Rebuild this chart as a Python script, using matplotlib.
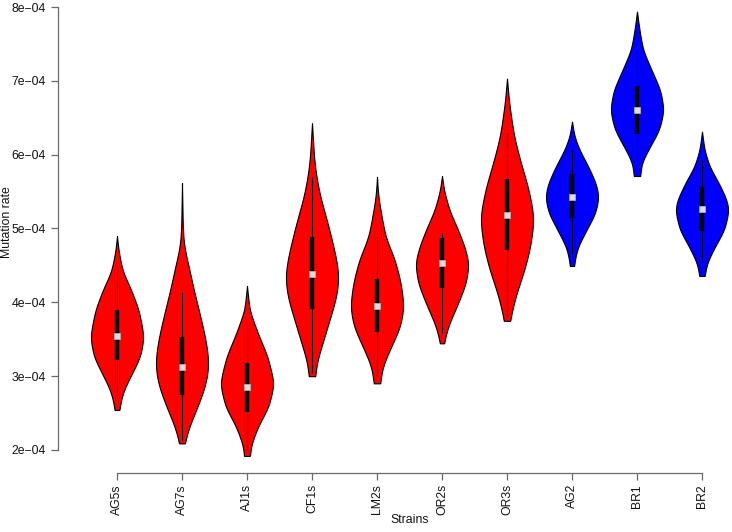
import numpy as np
import matplotlib
matplotlib.use("Agg")
import matplotlib.pyplot as plt

plt.rcParams['font.family'] = ['Liberation Sans', 'DejaVu Sans']

# ---------------- data (values in units of 1e-4) ----------------
strains = ['AG5s', 'AG7s', 'AJ1s', 'CF1s', 'LM2s', 'OR2s', 'OR3s', 'AG2', 'BR1', 'BR2']
groups = ['red'] * 7 + ['blue'] * 3

medians = [3.54, 3.13, 2.85, 4.39, 3.95, 4.53, 5.18, 5.43, 6.60, 5.26]
q1 = [3.22, 2.745, 2.52, 3.906, 3.60, 4.19, 4.71, 5.14, 6.28, 4.96]
q3 = [3.90, 3.535, 3.174, 4.889, 4.316, 4.867, 5.667, 5.738, 6.93, 5.558]
whisker_lo = [2.77, 2.12, 2.00, 3.04, 2.99, 3.58, 3.80, 4.65, 5.79, 4.57]
whisker_hi = [4.42, 4.144, 3.67, 5.70, 4.889, 4.94, 6.30, 6.06, 7.42, 5.93]

# violin outline: levels and relative half-widths
outline_levels = [
    [4.90, 4.71, 4.415, 4.194, 3.896, 3.535, 3.264, 3.039, 2.813, 2.637, 2.542],
    [5.616, 4.98, 4.754, 4.533, 4.144, 3.856, 3.49, 3.178, 2.907, 2.586, 2.316, 2.163, 2.09],
    [4.22, 4.08, 3.896, 3.58, 3.264, 2.903, 2.586, 2.316, 2.045, 1.92],
    [6.425, 5.928, 5.70, 5.386, 5.25, 4.889, 4.573, 4.35, 4.076, 3.76, 3.445, 3.174, 3.0],
    [5.70, 5.45, 5.25, 4.889, 4.573, 4.258, 3.941, 3.67, 3.40, 3.128, 2.903],
    [5.71, 5.52, 5.25, 4.98, 4.754, 4.529, 4.258, 3.987, 3.716, 3.535, 3.445],
    [7.03, 6.696, 6.244, 5.883, 5.566, 5.25, 5.115, 4.754, 4.44, 4.12, 3.85, 3.75],
    [6.447, 6.244, 6.063, 5.837, 5.612, 5.43, 5.206, 4.98, 4.754, 4.573, 4.492],
    [7.937, 7.689, 7.418, 7.147, 6.876, 6.605, 6.334, 6.108, 5.883, 5.711],
    [6.311, 6.063, 5.837, 5.612, 5.386, 5.25, 4.98, 4.754, 4.529, 4.357],
]
outline_widths = [
    [0, 0.05, 0.21, 0.5, 0.81, 1.0, 0.87, 0.56, 0.25, 0.12, 0.09],
    [0, 0.03, 0.07, 0.22, 0.45, 0.65, 0.88, 1.0, 0.9, 0.58, 0.26, 0.13, 0.11],
    [0, 0.04, 0.09, 0.4, 0.76, 1.0, 0.8, 0.4, 0.13, 0.11],
    [0, 0.08, 0.16, 0.33, 0.45, 0.71, 0.91, 1.0, 0.91, 0.65, 0.39, 0.16, 0.12],
    [0, 0.04, 0.13, 0.31, 0.67, 0.89, 1.0, 0.87, 0.53, 0.2, 0.12],
    [0, 0.07, 0.27, 0.6, 0.84, 1.0, 0.89, 0.6, 0.27, 0.12, 0.08],
    [0, 0.08, 0.26, 0.52, 0.78, 0.96, 1.0, 0.87, 0.65, 0.35, 0.16, 0.12],
    [0, 0.09, 0.28, 0.61, 0.89, 1.0, 0.87, 0.54, 0.22, 0.1, 0.08],
    [0, 0.09, 0.22, 0.54, 0.87, 1.0, 0.83, 0.48, 0.16, 0.12],
    [0, 0.09, 0.28, 0.63, 0.92, 1.0, 0.83, 0.48, 0.18, 0.1],
]

y_ticks = [2, 3, 4, 5, 6, 7, 8]
y_ticklabels = ['2e\u221204', '3e\u221204', '4e\u221204', '5e\u221204',
                '6e\u221204', '7e\u221204', '8e\u221204']

fill_colors = {'red': '#FF0000', 'blue': '#0000FF'}

# ---------------- figure ----------------
W, H = 732, 532
fig = plt.figure(figsize=(W / 100, H / 100), dpi=100)
ax_left_px, ax_bottom_px = 58, 473
ax = fig.add_axes([ax_left_px / W, (H - ax_bottom_px) / H,
                   (W - ax_left_px) / W, ax_bottom_px / H])

cat_px0, cat_step = 117, 65.0
px_per_unit = 73.83
ax.set_xlim(1 - (cat_px0 - ax_left_px) / cat_step, 1 + (W - cat_px0) / cat_step)
ax.set_ylim(2 - (ax_bottom_px - 450) / px_per_unit, 8 + 7 / px_per_unit)

max_hw = 26 / cat_step


def smooth_profile(levels, widths, n=400):
    lv = np.asarray(levels)[::-1]
    wd = np.asarray(widths)[::-1]
    grid = np.linspace(lv[0], lv[-1], n)
    w = np.interp(grid, lv, wd)
    sig = 14
    k = np.exp(-0.5 * (np.arange(-3 * sig, 3 * sig + 1) / sig) ** 2)
    k /= k.sum()
    # linear extrapolation padding keeps the ends close to the read widths
    left = w[0] + (w[0] - w[1:3 * sig + 1])[::-1]
    right = w[-1] + (w[-1] - w[-3 * sig - 1:-1])[::-1]
    pad = np.concatenate([left, w, right])
    ws = np.convolve(pad, k, mode='valid')
    ws = np.clip(ws, 0, None)
    ws = ws * (wd.max() / ws.max())
    ws[0] = wd[0]
    ws[-1] = wd[-1]
    return grid, ws


for i, name in enumerate(strains):
    x = i + 1
    g, w = smooth_profile(outline_levels[i], outline_widths[i])
    hw = w * max_hw
    ax.fill_betweenx(g, x - hw, x + hw, facecolor=fill_colors[groups[i]],
                     edgecolor='black', linewidth=0.8, zorder=2)
    ax.vlines(x, whisker_lo[i], whisker_hi[i], color='black', linewidth=0.8, zorder=3)
    ax.vlines(x, q1[i], q3[i], color='black', linewidth=3.2, zorder=4)
    ax.plot([x], [medians[i]], marker='s', markersize=4.8,
            markerfacecolor='#dcdcdc', markeredgecolor='#b0b0b0',
            markeredgewidth=0.6, zorder=5)

axis_gray = '#6a6a6a'
for s in ['top', 'right']:
    ax.spines[s].set_visible(False)
ax.spines['left'].set_bounds(2, 8)
ax.spines['bottom'].set_bounds(1, 10)
for s in ['left', 'bottom']:
    ax.spines[s].set_color(axis_gray)
    ax.spines[s].set_linewidth(0.9)

ax.set_yticks(y_ticks)
ax.set_yticklabels(y_ticklabels)
ax.set_xticks(range(1, len(strains) + 1))
ax.set_xticklabels(strains, rotation=90)
ax.tick_params(axis='both', length=5, width=0.9, color=axis_gray,
               labelsize=8.8, labelcolor='#111111')
ax.tick_params(axis='y', pad=4)
ax.tick_params(axis='x', pad=3)

fig.text(7 / W, 1 - 222 / H, 'Mutation rate', rotation=90, ha='center',
         va='center', fontsize=8.8, color='#111111')
fig.text((cat_px0 + cat_px0 + 9 * cat_step) / 2 / W, 1 - 520 / H, 'Strains',
         ha='center', va='center', fontsize=8.8, color='#111111')

fig.savefig('out.png', dpi=100)
